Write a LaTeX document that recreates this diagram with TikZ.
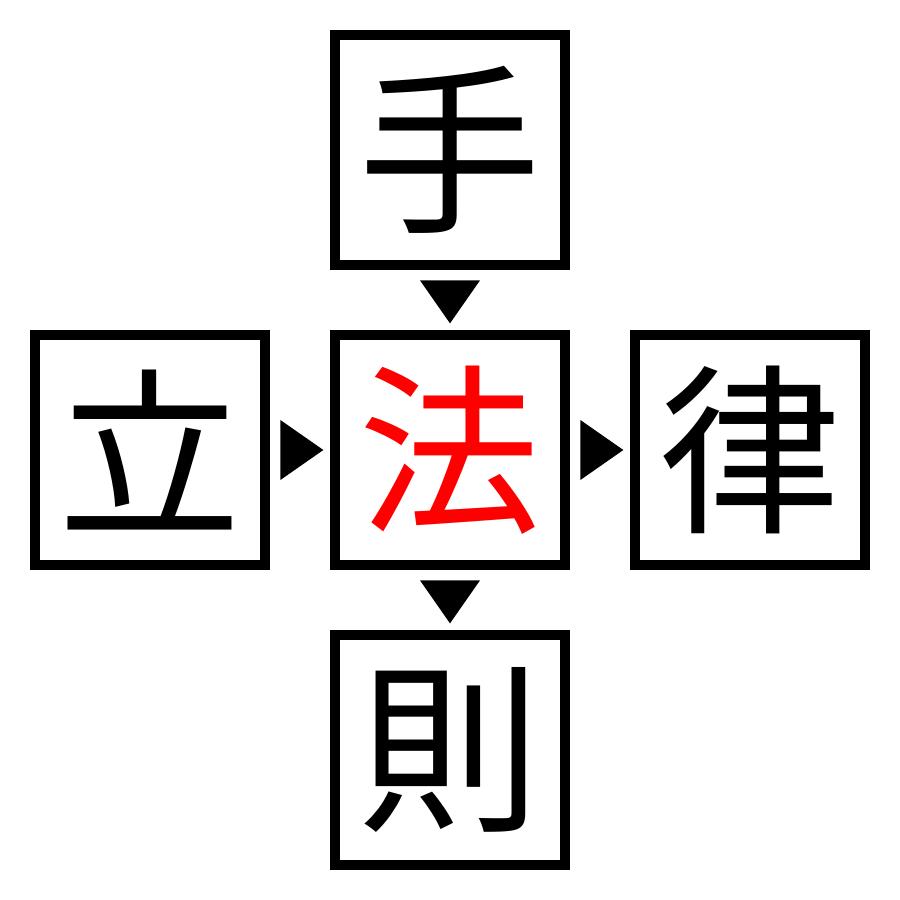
\documentclass[tikz,border=0pt]{standalone}
\usepackage{fontspec}
\newfontfamily\cjk{Noto Sans CJK JP}
\usetikzlibrary{positioning,shapes.geometric}

\begin{document}
\begin{tikzpicture}[node distance=0.6cm,
	box/.style={draw, line width=0.1cm, minimum size=2.3cm, inner sep=0pt,
		font=\cjk\fontsize{52}{52}\selectfont},
	tri/.style={isosceles triangle, isosceles triangle stretches, fill,
		inner sep=0pt, minimum height=0.43cm, minimum width=0.6cm,
		pos=0.92, anchor=apex}]
\useasboundingbox (0,0) rectangle (9,9);
\node[box] (ho) at (4.5,4.5) {\textcolor{red}{法}};
\node[box, above=of ho] (te) {手};
\node[box, left=of ho] (ritsu) {立};
\node[box, right=of ho] (ritsu2) {律};
\node[box, below=of ho] (soku) {則};
\path (te) -- node[tri, rotate=-90] (a1) {} (ho);
\path (ritsu) -- node[tri] (a2) {} (ho);
\path (ho) -- node[tri] (a3) {} (ritsu2);
\path (ho) -- node[tri, rotate=-90] (a4) {} (soku);
\end{tikzpicture}
\end{document}
